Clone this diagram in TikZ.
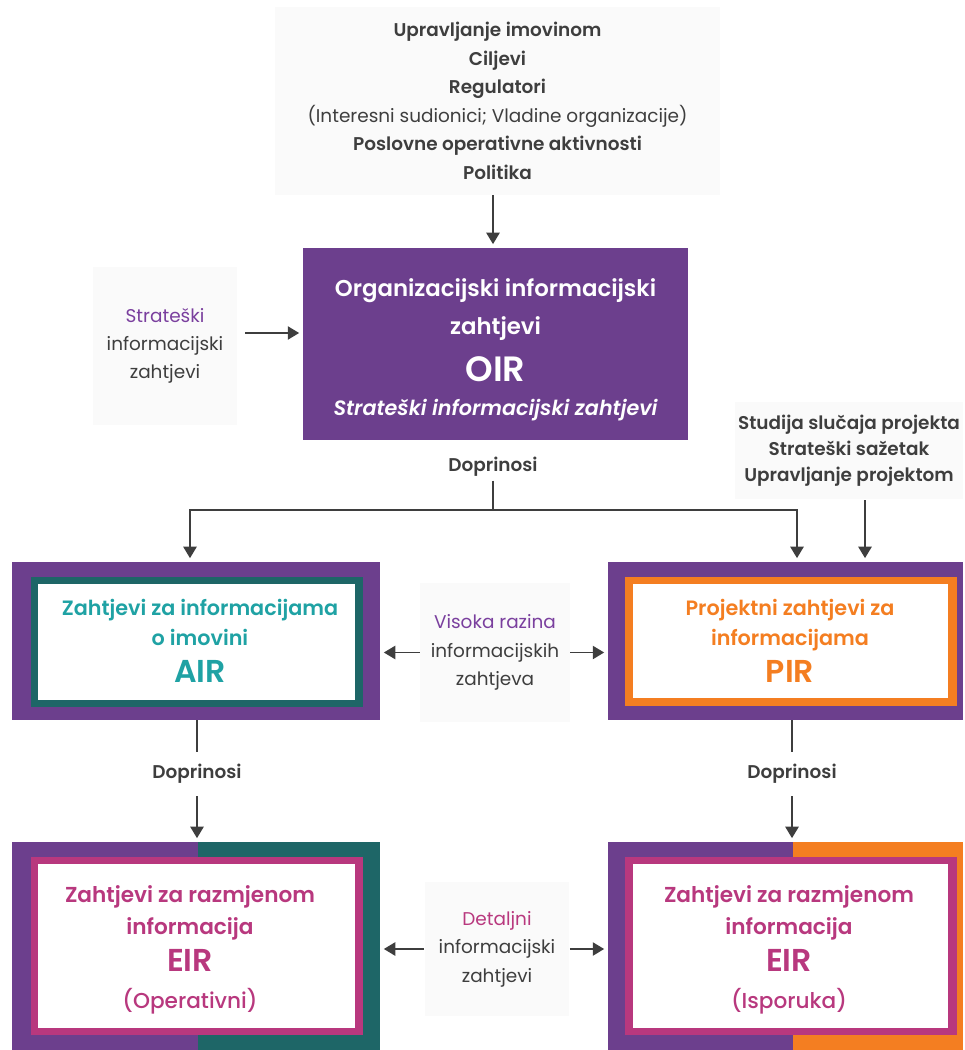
\documentclass[tikz,border=0pt]{standalone}
\usepackage{fontspec}
\setmainfont{Poppins}[BoldFont={Poppins SemiBold}]
\newfontfamily\mediumfont{Poppins Medium}
\usetikzlibrary{arrows.meta}

\definecolor{boxpurple}{HTML}{6C3F8D}
\definecolor{frameteal}{HTML}{1E6667}
\definecolor{textteal}{HTML}{1FA2A4}
\definecolor{pirorange}{HTML}{F47E21}
\definecolor{eirmagenta}{HTML}{B8387E}
\definecolor{notegray}{HTML}{FAFAFA}
\definecolor{textgray}{HTML}{3E3E3E}
\definecolor{labelpurple}{HTML}{7A3F9E}

\newcommand{\fsz}[2]{\fontsize{#1}{#2}\selectfont}

\tikzset{
  notebox/.style={fill=notegray, text=textgray, align=center, inner sep=0pt},
  frame/.style={align=center, inner sep=0pt},
  doplabel/.style={text=textgray, inner sep=7pt, font=\fsz{10.5}{14}\bfseries},
  link/.style={draw=textgray, line width=1.1pt, shorten >=2pt, -{Triangle[length=6.5pt,width=7.5pt]}},
  plain/.style={draw=textgray, line width=1.1pt},
}

\begin{document}
\begin{tikzpicture}[x=0.02cm, y=-0.02cm]
\useasboundingbox (0,0) rectangle (964,1050);

% inputs
\node[notebox, minimum width=8.9cm, minimum height=3.76cm, font=\fsz{10.5}{16.2}\bfseries] (goals) at (497.5,101)
  {Upravljanje imovinom\\Ciljevi\\Regulatori\\{\mdseries (Interesni sudionici; Vladine organizacije)}\\Poslovne operativne aktivnosti\\Politika};
\node[notebox, minimum width=2.88cm, minimum height=3.18cm, font=\fsz{10.5}{15.9}] (strat) at (165,346)
  {\textcolor{labelpurple}{Strateški}\\informacijski\\zahtjevi};
\node[notebox, minimum width=4.56cm, minimum height=1.94cm, font=\fsz{10.5}{14.7}\bfseries] (proj) at (849,450.5)
  {Studija slučaja projekta\\Strateški sažetak\\Upravljanje projektom};

% OIR
\fill[boxpurple] (303,248) rectangle (688,440);
\node[frame, text=white, minimum width=7.7cm, minimum height=4.08cm, font=\fsz{13}{21.5}\bfseries] (oir) at (495.5,350)
  {Organizacijski informacijski\\zahtjevi\\[5.2pt]{\fsz{20}{24}OIR}\\[-1.7pt]{\fsz{11.8}{14}\itshape Strateški informacijski zahtjevi}};

% AIR
\fill[boxpurple] (12,562) rectangle (380,720);
\fill[frameteal] (31,577) rectangle (363,707);
\fill[white] (38,584) rectangle (355,700);
\node[frame, minimum width=7.2cm, minimum height=3.16cm, text=textteal, font=\fsz{11.8}{17}\bfseries] (air) at (200,641)
  {Zahtjevi za informacijama\\o imovini\\[4.5pt]{\fsz{18}{22}AIR}};

% PIR
\fill[boxpurple] (608,562) rectangle (963,720);
\fill[pirorange] (625,577) rectangle (957,706);
\fill[white] (633,584) rectangle (948,698);
\node[frame, minimum width=7.28cm, minimum height=3.16cm, text=pirorange, font=\fsz{11.8}{17}\bfseries] (pir) at (790,641)
  {Projektni zahtjevi za\\informacijama\\[4.5pt]{\fsz{18}{22}PIR}};

% EIR
\fill[boxpurple] (12,842) rectangle (198,1050);
\fill[frameteal] (198,842) rectangle (380,1050);
\fill[eirmagenta] (31,857) rectangle (363,1035);
\fill[white] (38,864) rectangle (355,1028);
\node[frame, minimum width=7.6cm, minimum height=4.32cm, text=eirmagenta, font=\fsz{12.3}{18.1}\bfseries] (eirop) at (190,950)
  {Zahtjevi za razmjenom\\informacija\\[2.9pt]{\fsz{18}{22}EIR}\\[3.4pt]{\mediumfont\mdseries (Operativni)}};

\fill[boxpurple] (608,842) rectangle (793,1050);
\fill[pirorange] (793,842) rectangle (963,1050);
\fill[eirmagenta] (625,857) rectangle (957,1035);
\fill[white] (633,864) rectangle (948,1028);
\node[frame, minimum width=7.24cm, minimum height=4.32cm, text=eirmagenta, font=\fsz{12.3}{18.1}\bfseries] (eirdel) at (789,950)
  {Zahtjevi za razmjenom\\informacija\\[2.9pt]{\fsz{18}{22}EIR}\\[3.4pt]{\mediumfont\mdseries (Isporuka)}};

% middle labels
\node[notebox, minimum width=3cm, minimum height=2.78cm, font=\fsz{10.5}{16.4}] (vis) at (495,652.5)
  {\textcolor{labelpurple}{Visoka razina}\\informacijskih\\zahtjeva};
\node[notebox, minimum width=2.9cm, minimum height=2.7cm, font=\fsz{10.5}{16.2}] (det) at (497,949)
  {\textcolor{eirmagenta}{Detaljni}\\informacijski\\zahtjevi};

\node[doplabel, inner sep=2pt] (dop1) at (493,467) {Doprinosi};
\node[doplabel] (dop2) at (197,774) {Doprinosi};
\node[doplabel] (dop3) at (792,774) {Doprinosi};
\coordinate (split) at (493,510);

% connectors
\draw[link] (goals.south -| dop1) -- (oir.north -| dop1);
\draw[link] ([shift={(8,-13)}]strat.east) coordinate (stratout) -- (stratout -| oir.west);
\draw[link] (dop1) -- (split) -| ([shift={(-10,0)}]air.north);
\draw[link] (split) -| ([shift={(7,0)}]pir.north);
\draw[link] ([shift={(16,1)}]proj.south) coordinate (projout) -- (projout |- pir.north);

\draw[link] (vis) -- (vis -| air.east);
\draw[link] (vis) -- (vis -| pir.west);
\draw[link] (det) -- (det -| eirop.east);
\draw[link] (det) -- (det -| eirdel.west);

\draw[plain] (air.south -| dop2) -- (dop2);
\draw[link] (dop2) -- (dop2 |- eirop.north);
\draw[plain] (pir.south -| dop3) -- (dop3);
\draw[link] (dop3) -- (dop3 |- eirdel.north);
\end{tikzpicture}
\end{document}
